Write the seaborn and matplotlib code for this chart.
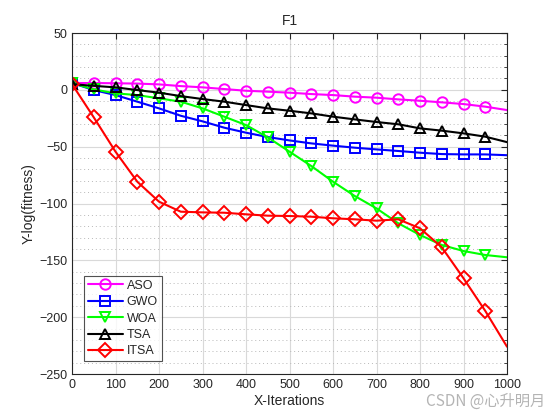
import numpy as np
import pandas as pd
import matplotlib
matplotlib.use("Agg")
import matplotlib.pyplot as plt
import seaborn as sns
from matplotlib.ticker import MultipleLocator

iterations = [0, 50, 100, 150, 200, 250, 300, 350, 400, 450, 500,
              550, 600, 650, 700, 750, 800, 850, 900, 950, 1000]
aso = [6.0, 6.0, 5.8, 5.5, 4.8, 3.3, 2.2, 0.7, -0.8, -1.6, -2.5,
       -3.7, -4.6, -6.0, -6.9, -8.4, -9.6, -11.0, -12.5, -14.8, -17.8]
gwo = [6.0, -0.2, -4.6, -10.4, -16.3, -22.8, -27.7, -33.3, -37.7, -41.5, -44.5,
       -47.1, -49.1, -50.9, -52.4, -53.8, -55.3, -56.5, -56.8, -56.8, -57.5]
woa = [6.0, 0.4, -3.1, -4.6, -7.5, -10.4, -16.3, -23.6, -31.0, -41.8, -54.4,
       -67.0, -80.8, -93.4, -104.3, -117.4, -127.7, -136.5, -141.8, -145.3, -147.3]
tsa = [5.0, 3.5, 2.2, -0.2, -2.5, -5.5, -8.1, -10.4, -13.4, -16.3, -18.4,
       -20.7, -23.6, -26.0, -28.3, -30.3, -33.9, -35.9, -38.3, -41.2, -46.0]
itsa = [5.0, -24.2, -54.4, -80.8, -98.4, -107.2, -107.8, -108.1, -109.5, -110.7, -111.0,
        -111.6, -113.0, -113.9, -115.1, -113.9, -121.8, -138.5, -165.8, -194.5, -226.0]

names = ["ASO", "GWO", "WOA", "TSA", "ITSA"]
series = [aso, gwo, woa, tsa, itsa]
colors = ["#FF00FF", "#0000FF", "#00FF00", "#000000", "#FF0000"]
markers = ["o", "s", "v", "^", "D"]

df = pd.concat([pd.DataFrame({"iter": iterations, "val": s, "alg": n})
                for n, s in zip(names, series)], ignore_index=True)

sns.set_style("white")
plt.rcParams["font.family"] = ["Liberation Sans", "DejaVu Sans"]

fig = plt.figure(figsize=(5.6, 4.2), dpi=100)
ax = fig.add_axes([0.1286, 0.1095, 0.7768, 0.8119])

for n, c, m in zip(names, colors, markers):
    sub = df[df["alg"] == n]
    sns.lineplot(data=sub, x="iter", y="val", ax=ax, color=c, marker=m,
                 markersize=7.5 if m != "D" else 7, markerfacecolor="none",
                 markeredgecolor=c, markeredgewidth=1.4, linewidth=1.5,
                 markevery=list(range(len(iterations) - 1)), label=n)

ax.set_xlim(0, 1000)
ax.set_ylim(-250, 50)
ax.xaxis.set_major_locator(MultipleLocator(100))
ax.yaxis.set_major_locator(MultipleLocator(50))
ax.yaxis.set_minor_locator(MultipleLocator(10))
ax.grid(True, which="major", color="#d9d9d9", linewidth=0.8)
ax.grid(True, which="minor", axis="y", color="#b8b8b8", linestyle=(0, (1, 3)), linewidth=0.7)
ax.set_axisbelow(True)
ax.tick_params(which="both", direction="in", top=True, right=True,
               labelsize=9, colors="#262626", length=4)
ax.tick_params(which="minor", length=2)
for sp in ax.spines.values():
    sp.set_color("#262626")
    sp.set_linewidth(0.8)

ax.set_title("F1", fontsize=10, color="#262626", pad=6)
ax.set_xlabel("X-Iterations", fontsize=10, color="#262626", labelpad=2)
ax.set_ylabel("Y-log(fitness)", fontsize=10, color="#262626", labelpad=2)

leg = ax.legend(loc="lower left", bbox_to_anchor=(0.028, 0.038), fontsize=9,
                frameon=True, fancybox=False, edgecolor="#262626",
                handlelength=2.8, borderpad=0.3, labelspacing=0.35,
                handletextpad=0.3, borderaxespad=0)
leg.get_frame().set_linewidth(0.8)

fig.text(0.973, 0.025, "CSDN @心升明月", ha="right", va="bottom", fontsize=11,
         color="#b4b4b4", family=["Noto Sans CJK SC", "DejaVu Sans"])

fig.savefig("out.png", dpi=100, facecolor="white")
